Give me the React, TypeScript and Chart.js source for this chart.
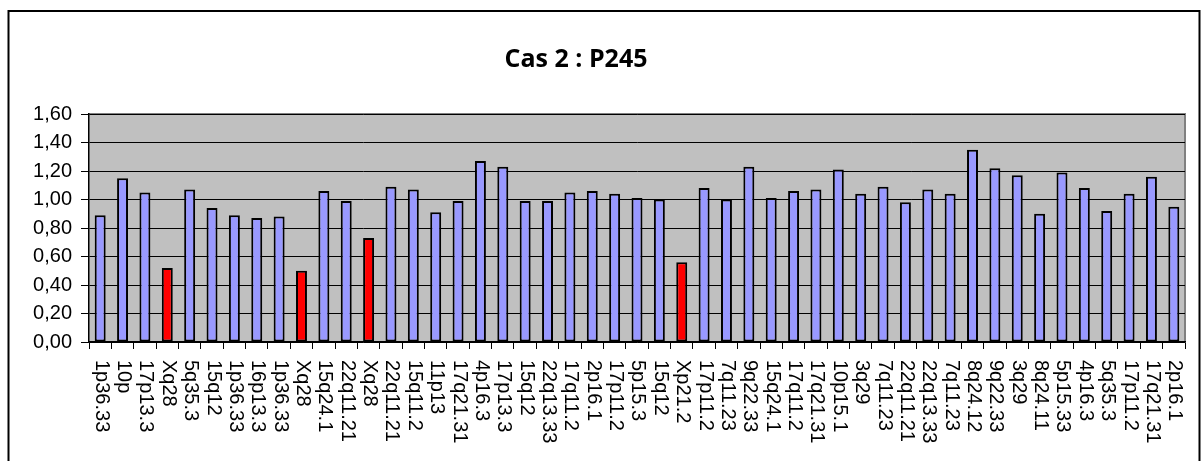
import React, { useEffect, useRef } from 'react';
import { Chart, registerables } from 'chart.js';

Chart.register(...registerables);

const chartTitle = 'Cas 2 : P245';

const categories = [
  '1p36.33', '10p', '17p13.3', 'Xq28', '5q35.3', '15q12', '1p36.33', '16p13.3', '1p36.33', 'Xq28',
  '15q24.1', '22q11.21', 'Xq28', '22q11.21', '15q11.2', '11p13', '17q21.31', '4p16.3', '17p13.3', '15q12',
  '22q13.33', '17q11.2', '2p16.1', '17p11.2', '5p15.3', '15q12', 'Xp21.2', '17p11.2', '7q11.23', '9q22.33',
  '15q24.1', '17q11.2', '17q21.31', '10p15.1', '3q29', '7q11.23', '22q11.21', '22q13.33', '7q11.23', '8q24.12',
  '9q22.33', '3q29', '8q24.11', '5p15.33', '4p16.3', '5q35.3', '17p11.2', '17q21.31', '2p16.1',
];

const ratios = [
  0.89, 1.15, 1.05, 0.52, 1.07, 0.94, 0.89, 0.87, 0.88, 0.50,
  1.06, 0.99, 0.73, 1.09, 1.07, 0.91, 0.99, 1.27, 1.23, 0.99,
  0.99, 1.05, 1.06, 1.04, 1.01, 1.00, 0.56, 1.08, 1.00, 1.23,
  1.01, 1.06, 1.07, 1.21, 1.04, 1.09, 0.98, 1.07, 1.04, 1.35,
  1.22, 1.17, 0.90, 1.19, 1.08, 0.92, 1.04, 1.16, 0.95,
];

const highlightedIndexes = [3, 9, 12, 26];

const yMin = 0;
const yMax = 1.6;
const yStep = 0.2;

const normalColor = '#9999FF';
const highlightColor = '#FF0000';

export default function App() {
  const ref = useRef<HTMLCanvasElement>(null);

  useEffect(() => {
    if (!ref.current) return;

    const framePlugin = {
      id: 'frame',
      beforeDraw(chart: any) {
        const { ctx, chartArea: a } = chart;
        ctx.save();
        ctx.fillStyle = '#ffffff';
        ctx.fillRect(0, 0, chart.width, chart.height);
        ctx.strokeStyle = '#000000';
        ctx.lineWidth = 2;
        ctx.strokeRect(8.5, 11, 1191, 480);
        ctx.fillStyle = '#C0C0C0';
        ctx.fillRect(a.left, a.top, a.right - a.left, a.bottom - a.top);
        ctx.strokeStyle = '#808080';
        ctx.lineWidth = 2;
        ctx.beginPath();
        ctx.moveTo(a.left, a.top);
        ctx.lineTo(a.right, a.top);
        ctx.lineTo(a.right, a.bottom);
        ctx.stroke();
        ctx.fillStyle = '#000000';
        ctx.font = 'bold 25px "Open Sans"';
        ctx.textAlign = 'center';
        ctx.textBaseline = 'alphabetic';
        ctx.fillText(chartTitle, 576, 67);
        ctx.restore();
      },
      afterDraw(chart: any) {
        const { ctx } = chart;
        const xs = chart.scales.x;
        ctx.save();
        ctx.fillStyle = '#000000';
        ctx.font = '20px "Liberation Sans", Arial, sans-serif';
        ctx.textAlign = 'left';
        ctx.textBaseline = 'middle';
        categories.forEach((c, i) => {
          const px = xs.getPixelForValue(i);
          ctx.save();
          ctx.translate(px + 1, 360);
          ctx.rotate(Math.PI / 2);
          ctx.fillText(c, 0, 0);
          ctx.restore();
        });
        ctx.restore();
      },
    };

    const colors = categories.map((_, i) => (highlightedIndexes.includes(i) ? highlightColor : normalColor));

    const chart = new Chart(ref.current, {
      type: 'bar',
      data: {
        labels: categories,
        datasets: [
          {
            data: ratios,
            backgroundColor: colors,
            borderColor: '#000000',
            borderWidth: 2,
            borderSkipped: false,
            categoryPercentage: 1,
            barPercentage: 0.49,
          },
        ],
      },
      options: {
        animation: false,
        responsive: false,
        maintainAspectRatio: false,
        events: [],
        layout: { padding: { left: 0, right: 18, top: 114, bottom: 0 } },
        plugins: {
          legend: { display: false },
          title: { display: false },
          tooltip: { enabled: false },
        },
        scales: {
          x: {
            offset: true,
            grid: {
              offset: true,
              drawOnChartArea: false,
              drawTicks: true,
              tickLength: 7,
              color: '#000000',
              lineWidth: 1,
            },
            border: { display: true, color: '#000000', width: 1.5 },
            ticks: { display: false },
            afterFit(scale: any) {
              scale.height = 119;
            },
          },
          y: {
            min: yMin,
            max: yMax,
            grid: {
              color: '#000000',
              lineWidth: 1,
              tickLength: 8,
              drawTicks: true,
            },
            border: { display: true, color: '#000000', width: 1.5 },
            ticks: {
              stepSize: yStep,
              padding: 9,
              color: '#000000',
              font: { family: '"Liberation Sans", Arial, sans-serif', size: 20 },
              callback: (v: any) => Number(v).toFixed(2).replace('.', ','),
            },
            afterFit(scale: any) {
              scale.width = 89;
            },
          },
        },
      },
      plugins: [framePlugin],
    });

    return () => chart.destroy();
  }, []);

  return (
    <div style={{ position: 'fixed', left: 0, top: 0, width: 1203, height: 461, background: '#fff' }}>
      <canvas ref={ref} width={1203} height={461} style={{ display: 'block' }} />
    </div>
  );
}
